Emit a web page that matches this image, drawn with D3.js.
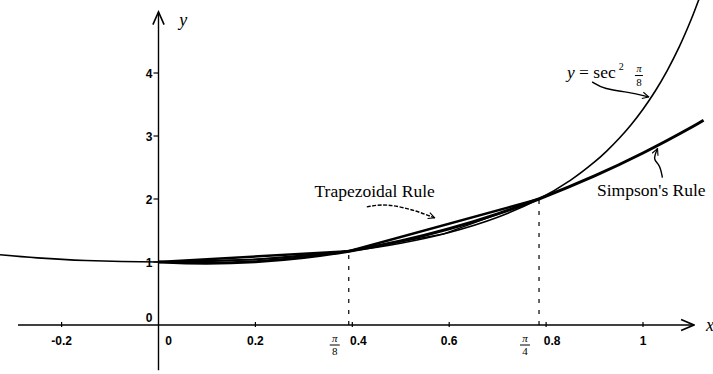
<!DOCTYPE html>
<html><head><meta charset="utf-8">
<script src="https://cdn.jsdelivr.net/npm/d3@7"></script>
<style>body{margin:0;background:#fff}svg{display:block}</style>
</head><body>
<svg id="c" width="713" height="374"></svg>
<script>
// ---- data ----
const xTicks = [-0.2, 0, 0.2, 0.4, 0.6, 0.8, 1];
const xTickLabels = ["-0.2", "0", "0.2", "0.4", "0.6", "0.8", "1"];
const yTicks = [1, 2, 3, 4];
const yTickLabels = ["1", "2", "3", "4"];
// y = sec^2 x
const secX = [-0.33,-0.25,-0.15,0,0.1,0.2,0.3,0.393,0.5,0.6,0.7,0.785,0.85,0.9,0.925,0.95,0.975,1.0,1.025,1.05,1.075,1.1,1.115,1.12];
const secY = [1.117,1.065,1.023,1,1.010,1.041,1.096,1.172,1.298,1.468,1.710,2.0,2.296,2.588,2.761,2.956,3.176,3.426,3.711,4.039,4.418,4.860,5.161,5.268];
// Simpson's rule parabola
const simX = [0,0.1,0.2,0.3,0.393,0.5,0.6,0.7,0.785,0.9,1.0,1.1,1.125];
const simY = [1,0.981,1.005,1.072,1.172,1.333,1.527,1.764,2.0,2.366,2.730,3.138,3.25];
// trapezoidal chords
const trap2X = [0,0.3927,0.7854];
const trap2Y = [1,1.1716,2];
const trap4X = [0,0.1963,0.3927,0.589,0.7854];
const trap4Y = [1,1.0396,1.1716,1.4465,2];
// marked points pi/8, pi/4
const markX = [0.3927, 0.7854];
const markY = [1.1716, 2];
const markNum = ["π", "π"];
const markDen = ["8", "4"];

// ---- scales ----
const svg = d3.select("#c");
const x = d3.scaleLinear().domain([0, 1]).range([158.5, 643]);
const y = d3.scaleLinear().domain([0, 1]).range([325, 262]);

const defs = svg.append("defs");
defs.append("clipPath").attr("id","clip").append("rect")
  .attr("x",0).attr("y",0).attr("width",713).attr("height",374);
defs.append("marker").attr("id","ah").attr("viewBox","0 0 10 10")
    .attr("refX",9).attr("refY",5).attr("markerWidth",8).attr("markerHeight",8)
    .attr("orient","auto").attr("markerUnits","userSpaceOnUse")
    .append("path").attr("d","M1,1 L9,5 L1,9").attr("fill","none").attr("stroke","#000").attr("stroke-width",1.4);
defs.append("marker").attr("id","axh").attr("viewBox","0 0 10 10")
    .attr("refX",9).attr("refY",5).attr("markerWidth",16).attr("markerHeight",16)
    .attr("orient","auto").attr("markerUnits","userSpaceOnUse")
    .append("path").attr("d","M1,1.5 L9,5 L1,8.5").attr("fill","none").attr("stroke","#000").attr("stroke-width",1);

const tickFont = "Liberation Sans, Arial, sans-serif";
const serif = "Liberation Serif, Times New Roman, serif";

// axes
svg.append("line").attr("x1",x(-0.29)).attr("x2",x(1.105)).attr("y1",y(0)).attr("y2",y(0))
  .attr("stroke","#000").attr("stroke-width",1.4).attr("marker-end","url(#axh)");
svg.append("line").attr("x1",x(0)).attr("x2",x(0)).attr("y1",y(-0.72)).attr("y2",y(4.97))
  .attr("stroke","#000").attr("stroke-width",1.4).attr("marker-end","url(#axh)");

// x ticks
xTicks.forEach((t,i)=>{
  if (t!==0) svg.append("line").attr("x1",x(t)).attr("x2",x(t)).attr("y1",y(0)-3).attr("y2",y(0)+2)
    .attr("stroke","#000").attr("stroke-width",1.2);
  let dx = t===0 ? 10 : (t===0.4 ? 6 : (t===0.8 ? 6 : 0));
  svg.append("text").attr("x",x(t)+dx).attr("y",y(0)+20).attr("text-anchor","middle")
    .attr("font-family",tickFont).attr("font-weight","bold").attr("font-size",12).text(xTickLabels[i]);
});
// y ticks
yTicks.forEach((t,i)=>{
  svg.append("line").attr("x1",x(0)-5).attr("x2",x(0)).attr("y1",y(t)).attr("y2",y(t))
    .attr("stroke","#000").attr("stroke-width",1.2);
  svg.append("text").attr("x",x(0)-6).attr("y",y(t)+5).attr("text-anchor","end")
    .attr("font-family",tickFont).attr("font-weight","bold").attr("font-size",12).text(yTickLabels[i]);
});
svg.append("text").attr("x",x(0)-6).attr("y",y(0)-3).attr("text-anchor","end")
  .attr("font-family",tickFont).attr("font-weight","bold").attr("font-size",12).text("0");

// axis labels
svg.append("text").attr("x",x(0.043)).attr("y",y(4.74)).attr("font-family",serif).attr("font-style","italic")
  .attr("font-size",18).text("y");
svg.append("text").attr("x",x(1.13)).attr("y",y(-0.1)).attr("font-family",serif).attr("font-style","italic")
  .attr("font-size",18).text("x");

// dashed markers
markX.forEach((m,i)=>{
  svg.append("line").attr("x1",x(m)).attr("x2",x(m)).attr("y1",y(0)).attr("y2",y(markY[i]))
    .attr("stroke","#000").attr("stroke-width",1.2).attr("stroke-dasharray","4,7");
  const fx = x(m) - 14;
  svg.append("text").attr("x",fx).attr("y",y(0)+17).attr("text-anchor","middle")
    .attr("font-family",serif).attr("font-style","italic").attr("font-size",11).text(markNum[i]);
  svg.append("line").attr("x1",fx-5).attr("x2",fx+5).attr("y1",y(0)+20).attr("y2",y(0)+20)
    .attr("stroke","#000").attr("stroke-width",1);
  svg.append("text").attr("x",fx).attr("y",y(0)+30).attr("text-anchor","middle")
    .attr("font-family",serif).attr("font-size",11).text(markDen[i]);
});

// curves
const g = svg.append("g").attr("clip-path","url(#clip)");
const lineC = d3.line().x(d=>x(d[0])).y(d=>y(d[1])).curve(d3.curveCatmullRom);
const lineL = d3.line().x(d=>x(d[0])).y(d=>y(d[1]));
g.append("path").attr("d",lineC(d3.zip(secX,secY))).attr("fill","none").attr("stroke","#000").attr("stroke-width",1.6);
g.append("path").attr("d",lineL(d3.zip(trap4X,trap4Y))).attr("fill","none").attr("stroke","#000").attr("stroke-width",1.5);
g.append("path").attr("d",lineL(d3.zip(trap2X,trap2Y))).attr("fill","none").attr("stroke","#000").attr("stroke-width",2.4);
g.append("path").attr("d",lineC(d3.zip(simX,simY))).attr("fill","none").attr("stroke","#000").attr("stroke-width",3);

// annotations
function ann(txt, tx, ty, pts){
  svg.append("text").attr("x",x(tx)).attr("y",y(ty)).attr("font-family",serif).attr("font-size",17.5).text(txt);
  const p = d3.line().x(d=>x(d[0])).y(d=>y(d[1])).curve(d3.curveBasis)(pts);
  return svg.append("path").attr("d",p).attr("fill","none").attr("stroke","#000").attr("stroke-width",1.4)
    .attr("marker-end","url(#ah)");
}
ann("Trapezoidal Rule", 0.322, 2.03, [[0.43,1.875],[0.47,1.93],[0.53,1.82],[0.57,1.70]]).attr("stroke-dasharray","4,1.5");
ann("Simpson's Rule", 0.905, 2.05, [[1.04,2.34],[1.035,2.55],[1.02,2.62],[1.03,2.80]]);
// sec^2 label
const sx0 = x(0.843);
const sl = svg.append("text").attr("x",sx0).attr("y",y(3.92)).attr("font-family",serif).attr("font-size",17.5);
sl.append("tspan").attr("font-style","italic").text("y");
sl.append("tspan").text(" = sec");
sl.append("tspan").attr("font-size",10).attr("dy",-8).attr("dx",3).text("2");
const sfx = sx0 + 72;
svg.append("text").attr("x",sfx).attr("y",y(4.01)).attr("text-anchor","middle").attr("font-family",serif)
  .attr("font-style","italic").attr("font-size",10).text("π");
svg.append("line").attr("x1",sfx-4).attr("x2",sfx+4).attr("y1",y(3.96)).attr("y2",y(3.96)).attr("stroke","#000").attr("stroke-width",1);
svg.append("text").attr("x",sfx).attr("y",y(3.80)).attr("text-anchor","middle").attr("font-family",serif)
  .attr("font-size",11).text("8");
svg.append("path").attr("d", d3.line().x(d=>x(d[0])).y(d=>y(d[1])).curve(d3.curveBasis)([[0.895,3.86],[0.92,3.74],[0.97,3.70],[1.012,3.62]]))
  .attr("fill","none").attr("stroke","#000").attr("stroke-width",1.4).attr("marker-end","url(#ah)");
</script>
</body></html>
